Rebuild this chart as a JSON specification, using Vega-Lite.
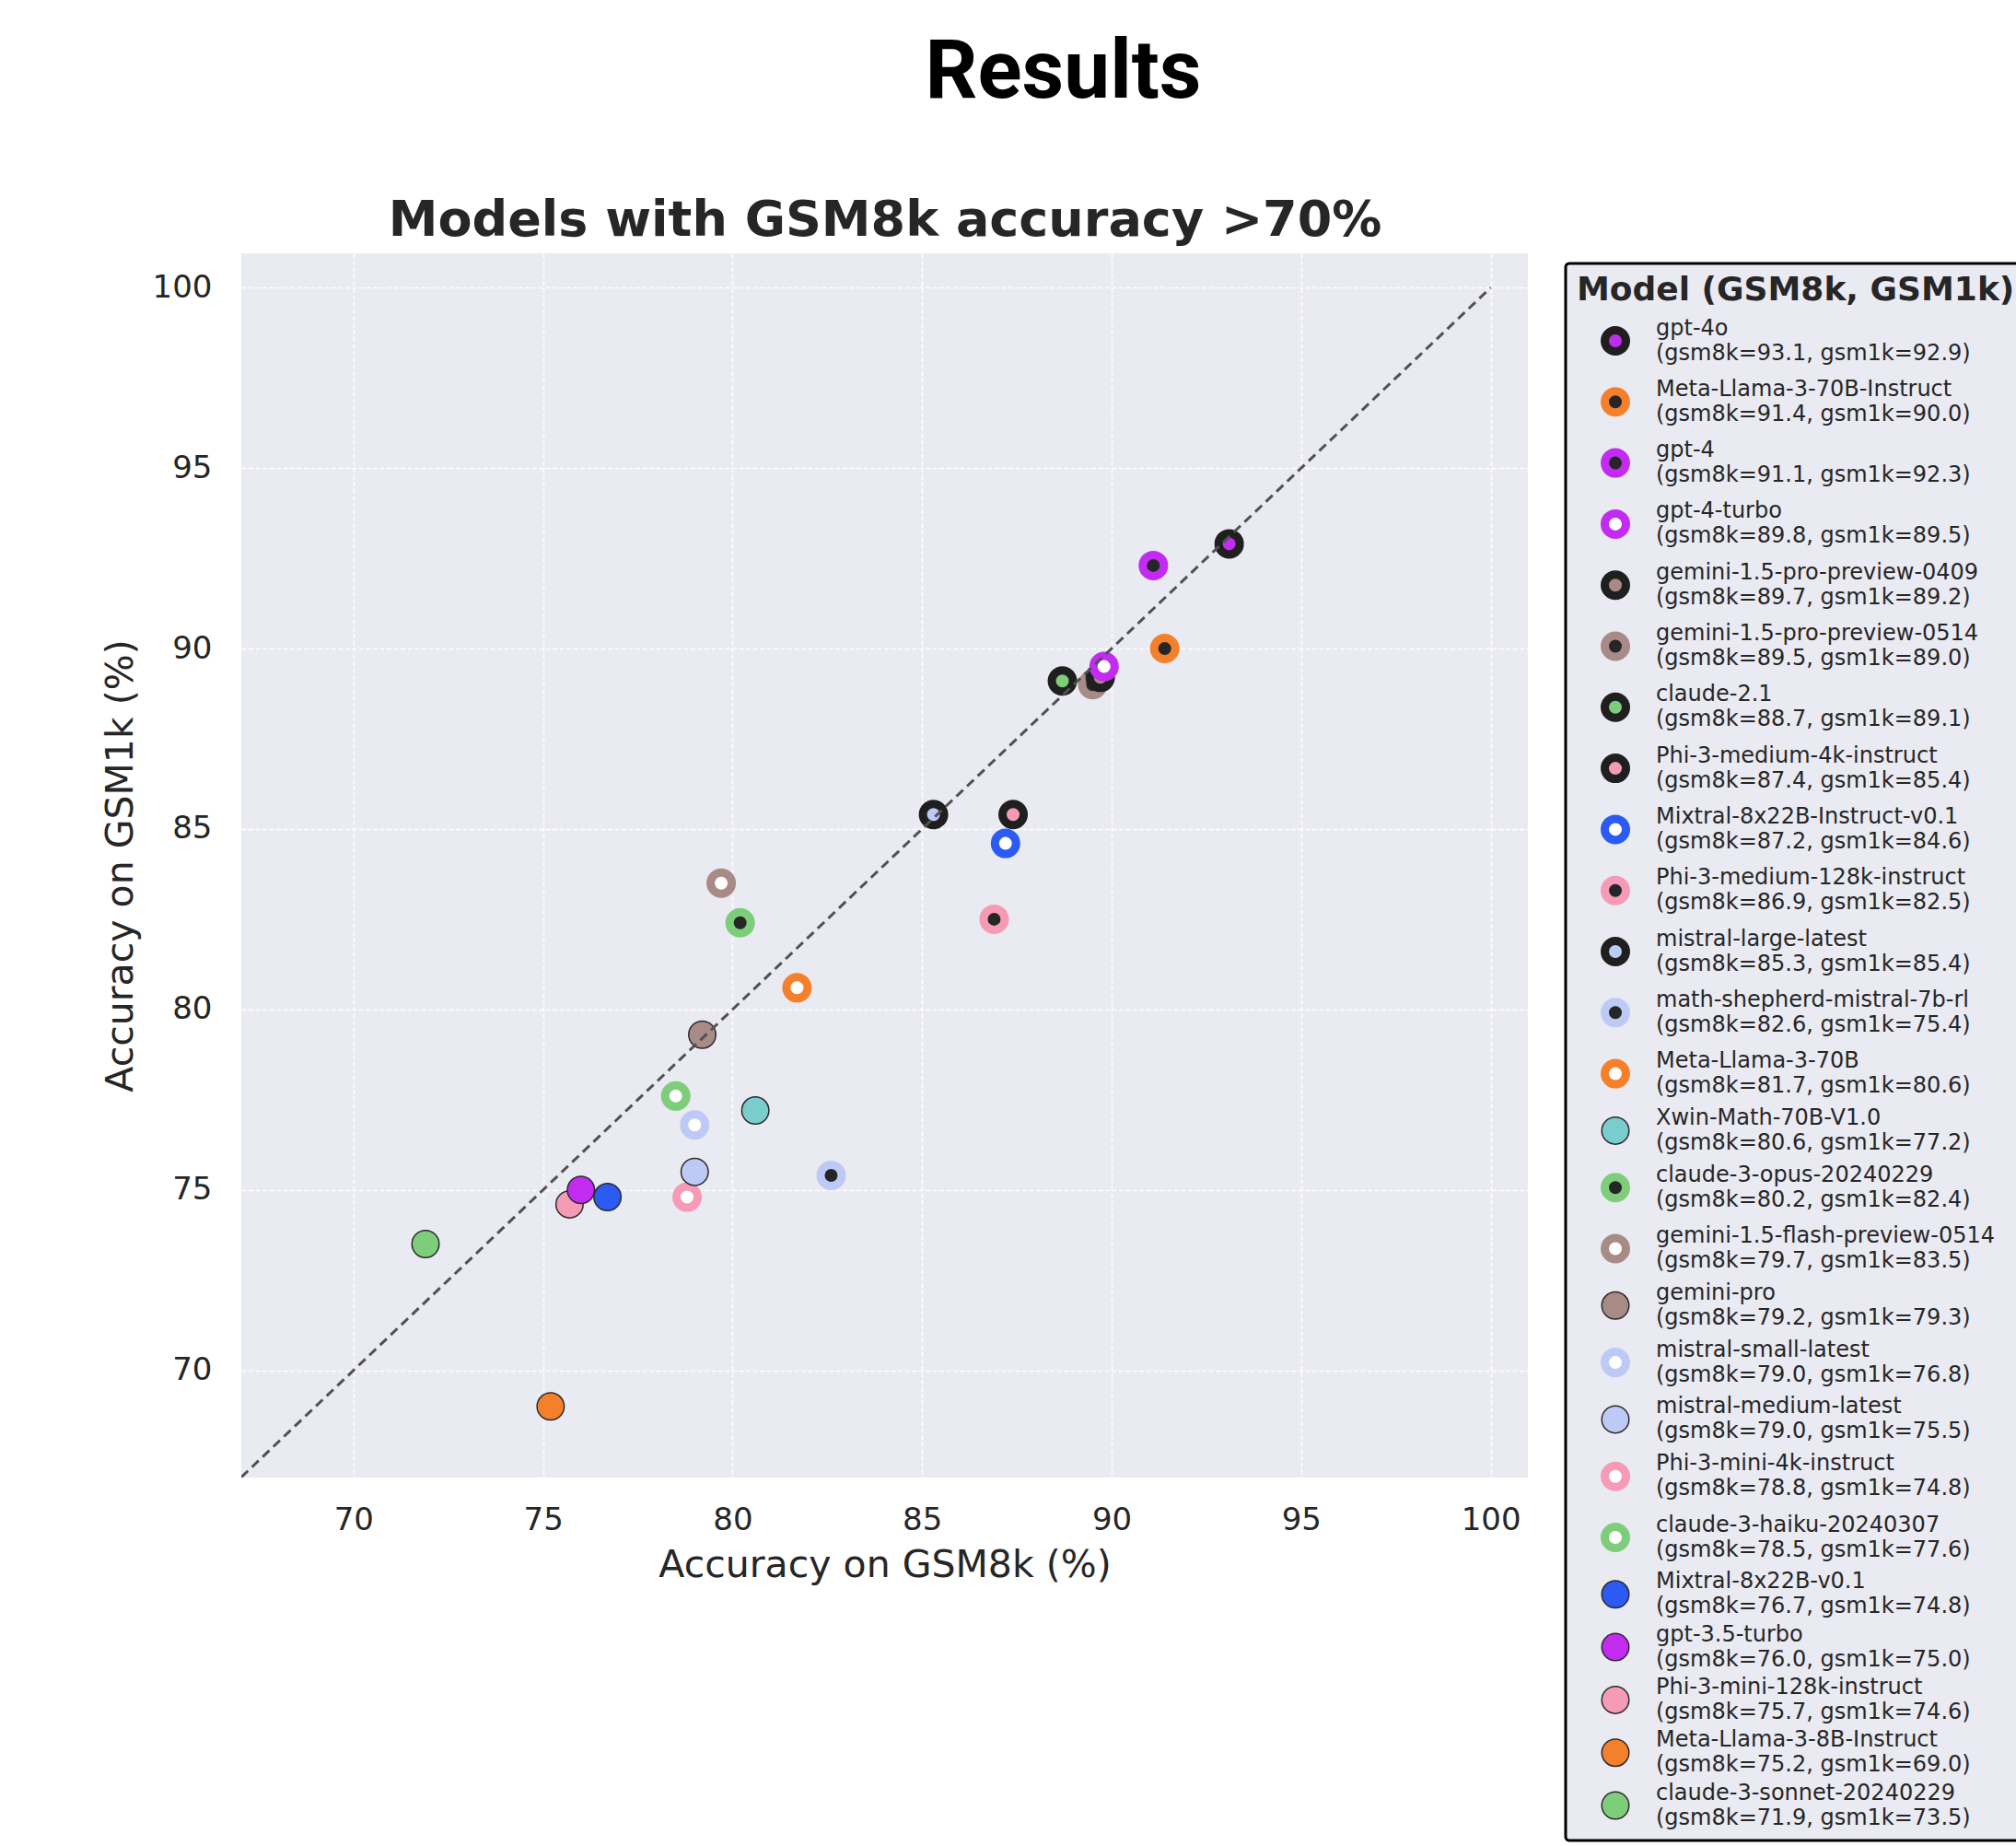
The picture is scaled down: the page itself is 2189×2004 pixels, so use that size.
{
  "$schema": "https://vega.github.io/schema/vega-lite/v6.json",
  "autosize": {"type": "none"},
  "padding": {"left": 262, "top": 275, "right": 530, "bottom": 400},
  "width": 1397,
  "height": 1329,
  "background": "#ffffff",
  "title": {"text": "Results", "font": "Roboto", "fontSize": 89, "fontWeight": "bold", "color": "#000000", "anchor": "middle", "frame": "group", "dx": 194, "offset": 87},
  "config": {
    "view": {"fill": "#EAEAF2", "stroke": null},
    "axis": {
      "labelFont": "DejaVu Sans", "labelFontSize": 34, "labelColor": "#262626",
      "titleFont": "DejaVu Sans", "titleFontSize": 41, "titleFontWeight": "normal", "titleColor": "#262626",
      "ticks": false, "tickSize": 0, "domain": false,
      "gridColor": "#ffffff", "gridWidth": 1.6, "gridDash": [5, 2.5], "gridOpacity": 0.95
    },
    "legend": {
      "orient": "none", "legendX": 1438, "legendY": 11,
      "symbolType": "circle", "symbolOffset": 26, "labelOffset": 28, "rowPadding": 6.3, "titlePadding": 20, "padding": 12,
      "fillColor": "#EAEAF2", "strokeColor": "#000000", "cornerRadius": 4, "labelLimit": 800, "titleLimit": 800,
      "labelFont": "DejaVu Sans", "labelFontSize": 24, "labelColor": "#262626",
      "titleFont": "DejaVu Sans", "titleFontSize": 36, "titleFontWeight": "bold", "titleColor": "#262626", "symbolOpacity": 1
    }
  },
  "layer": [
    {
      "data": {"values": [
        {"model": "claude-3-sonnet-20240229", "gsm8k": 71.9, "gsm1k": 73.5, "entry": "claude-3-sonnet-20240229\n(gsm8k=71.9, gsm1k=73.5)"},
        {"model": "Meta-Llama-3-8B-Instruct", "gsm8k": 75.2, "gsm1k": 69.0, "entry": "Meta-Llama-3-8B-Instruct\n(gsm8k=75.2, gsm1k=69.0)"},
        {"model": "Phi-3-mini-128k-instruct", "gsm8k": 75.7, "gsm1k": 74.6, "entry": "Phi-3-mini-128k-instruct\n(gsm8k=75.7, gsm1k=74.6)"},
        {"model": "gpt-3.5-turbo", "gsm8k": 76.0, "gsm1k": 75.0, "entry": "gpt-3.5-turbo\n(gsm8k=76.0, gsm1k=75.0)"},
        {"model": "Mixtral-8x22B-v0.1", "gsm8k": 76.7, "gsm1k": 74.8, "entry": "Mixtral-8x22B-v0.1\n(gsm8k=76.7, gsm1k=74.8)"},
        {"model": "claude-3-haiku-20240307", "gsm8k": 78.5, "gsm1k": 77.6, "entry": "claude-3-haiku-20240307\n(gsm8k=78.5, gsm1k=77.6)"},
        {"model": "Phi-3-mini-4k-instruct", "gsm8k": 78.8, "gsm1k": 74.8, "entry": "Phi-3-mini-4k-instruct\n(gsm8k=78.8, gsm1k=74.8)"},
        {"model": "mistral-medium-latest", "gsm8k": 79.0, "gsm1k": 75.5, "entry": "mistral-medium-latest\n(gsm8k=79.0, gsm1k=75.5)"},
        {"model": "mistral-small-latest", "gsm8k": 79.0, "gsm1k": 76.8, "entry": "mistral-small-latest\n(gsm8k=79.0, gsm1k=76.8)"},
        {"model": "gemini-pro", "gsm8k": 79.2, "gsm1k": 79.3, "entry": "gemini-pro\n(gsm8k=79.2, gsm1k=79.3)"},
        {"model": "gemini-1.5-flash-preview-0514", "gsm8k": 79.7, "gsm1k": 83.5, "entry": "gemini-1.5-flash-preview-0514\n(gsm8k=79.7, gsm1k=83.5)"},
        {"model": "claude-3-opus-20240229", "gsm8k": 80.2, "gsm1k": 82.4, "entry": "claude-3-opus-20240229\n(gsm8k=80.2, gsm1k=82.4)"},
        {"model": "Xwin-Math-70B-V1.0", "gsm8k": 80.6, "gsm1k": 77.2, "entry": "Xwin-Math-70B-V1.0\n(gsm8k=80.6, gsm1k=77.2)"},
        {"model": "Meta-Llama-3-70B", "gsm8k": 81.7, "gsm1k": 80.6, "entry": "Meta-Llama-3-70B\n(gsm8k=81.7, gsm1k=80.6)"},
        {"model": "math-shepherd-mistral-7b-rl", "gsm8k": 82.6, "gsm1k": 75.4, "entry": "math-shepherd-mistral-7b-rl\n(gsm8k=82.6, gsm1k=75.4)"},
        {"model": "mistral-large-latest", "gsm8k": 85.3, "gsm1k": 85.4, "entry": "mistral-large-latest\n(gsm8k=85.3, gsm1k=85.4)"},
        {"model": "Phi-3-medium-128k-instruct", "gsm8k": 86.9, "gsm1k": 82.5, "entry": "Phi-3-medium-128k-instruct\n(gsm8k=86.9, gsm1k=82.5)"},
        {"model": "Mixtral-8x22B-Instruct-v0.1", "gsm8k": 87.2, "gsm1k": 84.6, "entry": "Mixtral-8x22B-Instruct-v0.1\n(gsm8k=87.2, gsm1k=84.6)"},
        {"model": "Phi-3-medium-4k-instruct", "gsm8k": 87.4, "gsm1k": 85.4, "entry": "Phi-3-medium-4k-instruct\n(gsm8k=87.4, gsm1k=85.4)"},
        {"model": "claude-2.1", "gsm8k": 88.7, "gsm1k": 89.1, "entry": "claude-2.1\n(gsm8k=88.7, gsm1k=89.1)"},
        {"model": "gemini-1.5-pro-preview-0514", "gsm8k": 89.5, "gsm1k": 89.0, "entry": "gemini-1.5-pro-preview-0514\n(gsm8k=89.5, gsm1k=89.0)"},
        {"model": "gemini-1.5-pro-preview-0409", "gsm8k": 89.7, "gsm1k": 89.2, "entry": "gemini-1.5-pro-preview-0409\n(gsm8k=89.7, gsm1k=89.2)"},
        {"model": "gpt-4-turbo", "gsm8k": 89.8, "gsm1k": 89.5, "entry": "gpt-4-turbo\n(gsm8k=89.8, gsm1k=89.5)"},
        {"model": "gpt-4", "gsm8k": 91.1, "gsm1k": 92.3, "entry": "gpt-4\n(gsm8k=91.1, gsm1k=92.3)"},
        {"model": "Meta-Llama-3-70B-Instruct", "gsm8k": 91.4, "gsm1k": 90.0, "entry": "Meta-Llama-3-70B-Instruct\n(gsm8k=91.4, gsm1k=90.0)"},
        {"model": "gpt-4o", "gsm8k": 93.1, "gsm1k": 92.9, "entry": "gpt-4o\n(gsm8k=93.1, gsm1k=92.9)"}
      ]},
      "mark": {"type": "point", "shape": "circle", "filled": true, "opacity": 1},
      "encoding": {
        "x": {"field": "gsm8k", "type": "quantitative",
          "scale": {"domain": [67.04, 100.98], "nice": false, "zero": false},
          "axis": {"title": "Accuracy on GSM8k (%)", "values": [70, 75, 80, 85, 90, 95, 100], "grid": true, "labelPadding": 29, "titlePadding": 12}},
        "y": {"field": "gsm1k", "type": "quantitative",
          "scale": {"domain": [67.03, 100.95], "nice": false, "zero": false},
          "axis": {"title": "Accuracy on GSM1k (%)", "values": [70, 75, 80, 85, 90, 95, 100], "grid": true, "labelPadding": 32, "titlePadding": 13}},
        "fill": {"field": "entry", "type": "nominal",
          "scale": {
            "domain": ["gpt-4o\n(gsm8k=93.1, gsm1k=92.9)", "Meta-Llama-3-70B-Instruct\n(gsm8k=91.4, gsm1k=90.0)", "gpt-4\n(gsm8k=91.1, gsm1k=92.3)", "gpt-4-turbo\n(gsm8k=89.8, gsm1k=89.5)", "gemini-1.5-pro-preview-0409\n(gsm8k=89.7, gsm1k=89.2)", "gemini-1.5-pro-preview-0514\n(gsm8k=89.5, gsm1k=89.0)", "claude-2.1\n(gsm8k=88.7, gsm1k=89.1)", "Phi-3-medium-4k-instruct\n(gsm8k=87.4, gsm1k=85.4)", "Mixtral-8x22B-Instruct-v0.1\n(gsm8k=87.2, gsm1k=84.6)", "Phi-3-medium-128k-instruct\n(gsm8k=86.9, gsm1k=82.5)", "mistral-large-latest\n(gsm8k=85.3, gsm1k=85.4)", "math-shepherd-mistral-7b-rl\n(gsm8k=82.6, gsm1k=75.4)", "Meta-Llama-3-70B\n(gsm8k=81.7, gsm1k=80.6)", "Xwin-Math-70B-V1.0\n(gsm8k=80.6, gsm1k=77.2)", "claude-3-opus-20240229\n(gsm8k=80.2, gsm1k=82.4)", "gemini-1.5-flash-preview-0514\n(gsm8k=79.7, gsm1k=83.5)", "gemini-pro\n(gsm8k=79.2, gsm1k=79.3)", "mistral-small-latest\n(gsm8k=79.0, gsm1k=76.8)", "mistral-medium-latest\n(gsm8k=79.0, gsm1k=75.5)", "Phi-3-mini-4k-instruct\n(gsm8k=78.8, gsm1k=74.8)", "claude-3-haiku-20240307\n(gsm8k=78.5, gsm1k=77.6)", "Mixtral-8x22B-v0.1\n(gsm8k=76.7, gsm1k=74.8)", "gpt-3.5-turbo\n(gsm8k=76.0, gsm1k=75.0)", "Phi-3-mini-128k-instruct\n(gsm8k=75.7, gsm1k=74.6)", "Meta-Llama-3-8B-Instruct\n(gsm8k=75.2, gsm1k=69.0)", "claude-3-sonnet-20240229\n(gsm8k=71.9, gsm1k=73.5)"],
            "range": ["#c22cf0", "#262626", "#262626", "#ffffff", "#a88a87", "#262626", "#7ecd7b", "#f59bb5", "#ffffff", "#262626", "#bdcaf6", "#262626", "#ffffff", "#79cdcd", "#262626", "#ffffff", "#a88a87", "#ffffff", "#bdcaf6", "#ffffff", "#ffffff", "#2b5bf2", "#c22cf0", "#f59bb5", "#f5802b", "#7ecd7b"]
          },
          "legend": {"title": "Model (GSM8k, GSM1k)", "labelExpr": "split(datum.label, '\\n')", "encoding": {"legend": {"strokeWidth": {"value": 3}}, "labels": {"lineHeight": {"value": 27}, "dy": {"value": -13.5}}}}
        },
        "stroke": {"field": "entry", "type": "nominal",
          "scale": {
            "domain": ["gpt-4o\n(gsm8k=93.1, gsm1k=92.9)", "Meta-Llama-3-70B-Instruct\n(gsm8k=91.4, gsm1k=90.0)", "gpt-4\n(gsm8k=91.1, gsm1k=92.3)", "gpt-4-turbo\n(gsm8k=89.8, gsm1k=89.5)", "gemini-1.5-pro-preview-0409\n(gsm8k=89.7, gsm1k=89.2)", "gemini-1.5-pro-preview-0514\n(gsm8k=89.5, gsm1k=89.0)", "claude-2.1\n(gsm8k=88.7, gsm1k=89.1)", "Phi-3-medium-4k-instruct\n(gsm8k=87.4, gsm1k=85.4)", "Mixtral-8x22B-Instruct-v0.1\n(gsm8k=87.2, gsm1k=84.6)", "Phi-3-medium-128k-instruct\n(gsm8k=86.9, gsm1k=82.5)", "mistral-large-latest\n(gsm8k=85.3, gsm1k=85.4)", "math-shepherd-mistral-7b-rl\n(gsm8k=82.6, gsm1k=75.4)", "Meta-Llama-3-70B\n(gsm8k=81.7, gsm1k=80.6)", "Xwin-Math-70B-V1.0\n(gsm8k=80.6, gsm1k=77.2)", "claude-3-opus-20240229\n(gsm8k=80.2, gsm1k=82.4)", "gemini-1.5-flash-preview-0514\n(gsm8k=79.7, gsm1k=83.5)", "gemini-pro\n(gsm8k=79.2, gsm1k=79.3)", "mistral-small-latest\n(gsm8k=79.0, gsm1k=76.8)", "mistral-medium-latest\n(gsm8k=79.0, gsm1k=75.5)", "Phi-3-mini-4k-instruct\n(gsm8k=78.8, gsm1k=74.8)", "claude-3-haiku-20240307\n(gsm8k=78.5, gsm1k=77.6)", "Mixtral-8x22B-v0.1\n(gsm8k=76.7, gsm1k=74.8)", "gpt-3.5-turbo\n(gsm8k=76.0, gsm1k=75.0)", "Phi-3-mini-128k-instruct\n(gsm8k=75.7, gsm1k=74.6)", "Meta-Llama-3-8B-Instruct\n(gsm8k=75.2, gsm1k=69.0)", "claude-3-sonnet-20240229\n(gsm8k=71.9, gsm1k=73.5)"],
            "range": ["#1f1f1f", "#f5802b", "#c22cf0", "#c22cf0", "#1f1f1f", "#a88a87", "#1f1f1f", "#1f1f1f", "#2b5bf2", "#f59bb5", "#1f1f1f", "#bdcaf6", "#f5802b", "#2b2b2b", "#7ecd7b", "#a88a87", "#2b2b2b", "#bdcaf6", "#2b2b2b", "#f59bb5", "#7ecd7b", "#2b2b2b", "#2b2b2b", "#2b2b2b", "#2b2b2b", "#2b2b2b"]
          },
          "legend": {"title": "Model (GSM8k, GSM1k)", "labelExpr": "split(datum.label, '\\n')", "encoding": {"legend": {"strokeWidth": {"value": 3}}, "labels": {"lineHeight": {"value": 27}, "dy": {"value": -13.5}}}}
        },
        "size": {"field": "entry", "type": "ordinal",
          "scale": {
            "type": "ordinal",
            "domain": ["gpt-4o\n(gsm8k=93.1, gsm1k=92.9)", "Meta-Llama-3-70B-Instruct\n(gsm8k=91.4, gsm1k=90.0)", "gpt-4\n(gsm8k=91.1, gsm1k=92.3)", "gpt-4-turbo\n(gsm8k=89.8, gsm1k=89.5)", "gemini-1.5-pro-preview-0409\n(gsm8k=89.7, gsm1k=89.2)", "gemini-1.5-pro-preview-0514\n(gsm8k=89.5, gsm1k=89.0)", "claude-2.1\n(gsm8k=88.7, gsm1k=89.1)", "Phi-3-medium-4k-instruct\n(gsm8k=87.4, gsm1k=85.4)", "Mixtral-8x22B-Instruct-v0.1\n(gsm8k=87.2, gsm1k=84.6)", "Phi-3-medium-128k-instruct\n(gsm8k=86.9, gsm1k=82.5)", "mistral-large-latest\n(gsm8k=85.3, gsm1k=85.4)", "math-shepherd-mistral-7b-rl\n(gsm8k=82.6, gsm1k=75.4)", "Meta-Llama-3-70B\n(gsm8k=81.7, gsm1k=80.6)", "Xwin-Math-70B-V1.0\n(gsm8k=80.6, gsm1k=77.2)", "claude-3-opus-20240229\n(gsm8k=80.2, gsm1k=82.4)", "gemini-1.5-flash-preview-0514\n(gsm8k=79.7, gsm1k=83.5)", "gemini-pro\n(gsm8k=79.2, gsm1k=79.3)", "mistral-small-latest\n(gsm8k=79.0, gsm1k=76.8)", "mistral-medium-latest\n(gsm8k=79.0, gsm1k=75.5)", "Phi-3-mini-4k-instruct\n(gsm8k=78.8, gsm1k=74.8)", "claude-3-haiku-20240307\n(gsm8k=78.5, gsm1k=77.6)", "Mixtral-8x22B-v0.1\n(gsm8k=76.7, gsm1k=74.8)", "gpt-3.5-turbo\n(gsm8k=76.0, gsm1k=75.0)", "Phi-3-mini-128k-instruct\n(gsm8k=75.7, gsm1k=74.6)", "Meta-Llama-3-8B-Instruct\n(gsm8k=75.2, gsm1k=69.0)", "claude-3-sonnet-20240229\n(gsm8k=71.9, gsm1k=73.5)"],
            "range": [529, 529, 529, 529, 529, 529, 529, 529, 529, 529, 529, 529, 529, 870, 529, 529, 870, 529, 870, 529, 529, 870, 870, 870, 870, 870]
          },
          "legend": {"title": "Model (GSM8k, GSM1k)", "labelExpr": "split(datum.label, '\\n')", "encoding": {"legend": {"strokeWidth": {"value": 3}}, "labels": {"lineHeight": {"value": 27}, "dy": {"value": -13.5}}}}
        },
        "strokeWidth": {"field": "entry", "type": "ordinal",
          "scale": {
            "type": "ordinal",
            "domain": ["gpt-4o\n(gsm8k=93.1, gsm1k=92.9)", "Meta-Llama-3-70B-Instruct\n(gsm8k=91.4, gsm1k=90.0)", "gpt-4\n(gsm8k=91.1, gsm1k=92.3)", "gpt-4-turbo\n(gsm8k=89.8, gsm1k=89.5)", "gemini-1.5-pro-preview-0409\n(gsm8k=89.7, gsm1k=89.2)", "gemini-1.5-pro-preview-0514\n(gsm8k=89.5, gsm1k=89.0)", "claude-2.1\n(gsm8k=88.7, gsm1k=89.1)", "Phi-3-medium-4k-instruct\n(gsm8k=87.4, gsm1k=85.4)", "Mixtral-8x22B-Instruct-v0.1\n(gsm8k=87.2, gsm1k=84.6)", "Phi-3-medium-128k-instruct\n(gsm8k=86.9, gsm1k=82.5)", "mistral-large-latest\n(gsm8k=85.3, gsm1k=85.4)", "math-shepherd-mistral-7b-rl\n(gsm8k=82.6, gsm1k=75.4)", "Meta-Llama-3-70B\n(gsm8k=81.7, gsm1k=80.6)", "Xwin-Math-70B-V1.0\n(gsm8k=80.6, gsm1k=77.2)", "claude-3-opus-20240229\n(gsm8k=80.2, gsm1k=82.4)", "gemini-1.5-flash-preview-0514\n(gsm8k=79.7, gsm1k=83.5)", "gemini-pro\n(gsm8k=79.2, gsm1k=79.3)", "mistral-small-latest\n(gsm8k=79.0, gsm1k=76.8)", "mistral-medium-latest\n(gsm8k=79.0, gsm1k=75.5)", "Phi-3-mini-4k-instruct\n(gsm8k=78.8, gsm1k=74.8)", "claude-3-haiku-20240307\n(gsm8k=78.5, gsm1k=77.6)", "Mixtral-8x22B-v0.1\n(gsm8k=76.7, gsm1k=74.8)", "gpt-3.5-turbo\n(gsm8k=76.0, gsm1k=75.0)", "Phi-3-mini-128k-instruct\n(gsm8k=75.7, gsm1k=74.6)", "Meta-Llama-3-8B-Instruct\n(gsm8k=75.2, gsm1k=69.0)", "claude-3-sonnet-20240229\n(gsm8k=71.9, gsm1k=73.5)"],
            "range": [9, 9, 9, 9, 9, 9, 9, 9, 9, 9, 9, 9, 9, 1.5, 9, 9, 1.5, 9, 1.5, 9, 9, 1.5, 1.5, 1.5, 1.5, 1.5]
          },
          "legend": {"title": "Model (GSM8k, GSM1k)", "labelExpr": "split(datum.label, '\\n')", "encoding": {"legend": {"strokeWidth": {"value": 3}}, "labels": {"lineHeight": {"value": 27}, "dy": {"value": -13.5}}}}
        }
      }
    },
    {
      "data": {"values": [
        {"gsm8k": 67.04, "gsm1k": 67.04},
        {"gsm8k": 100, "gsm1k": 100}
      ]},
      "mark": {"type": "line", "color": "#505055", "strokeWidth": 3, "strokeDash": [10, 6], "clip": true},
      "encoding": {
        "x": {"field": "gsm8k", "type": "quantitative",
          "scale": {"domain": [67.04, 100.98], "nice": false, "zero": false},
          "axis": {"orient": "top", "title": "Models with GSM8k accuracy >70%", "labels": false, "ticks": false, "domain": false, "grid": false, "titleFont": "DejaVu Sans", "titleFontSize": 54, "titleFontWeight": "bold", "titleColor": "#262626", "titlePadding": 9}},
        "y": {"field": "gsm1k", "type": "quantitative",
          "scale": {"domain": [67.03, 100.95], "nice": false, "zero": false},
          "axis": {"title": "Accuracy on GSM1k (%)", "values": [70, 75, 80, 85, 90, 95, 100], "grid": true, "labelPadding": 32, "titlePadding": 13}}
      }
    }
  ],
  "resolve": {"axis": {"x": "independent"}}
}
